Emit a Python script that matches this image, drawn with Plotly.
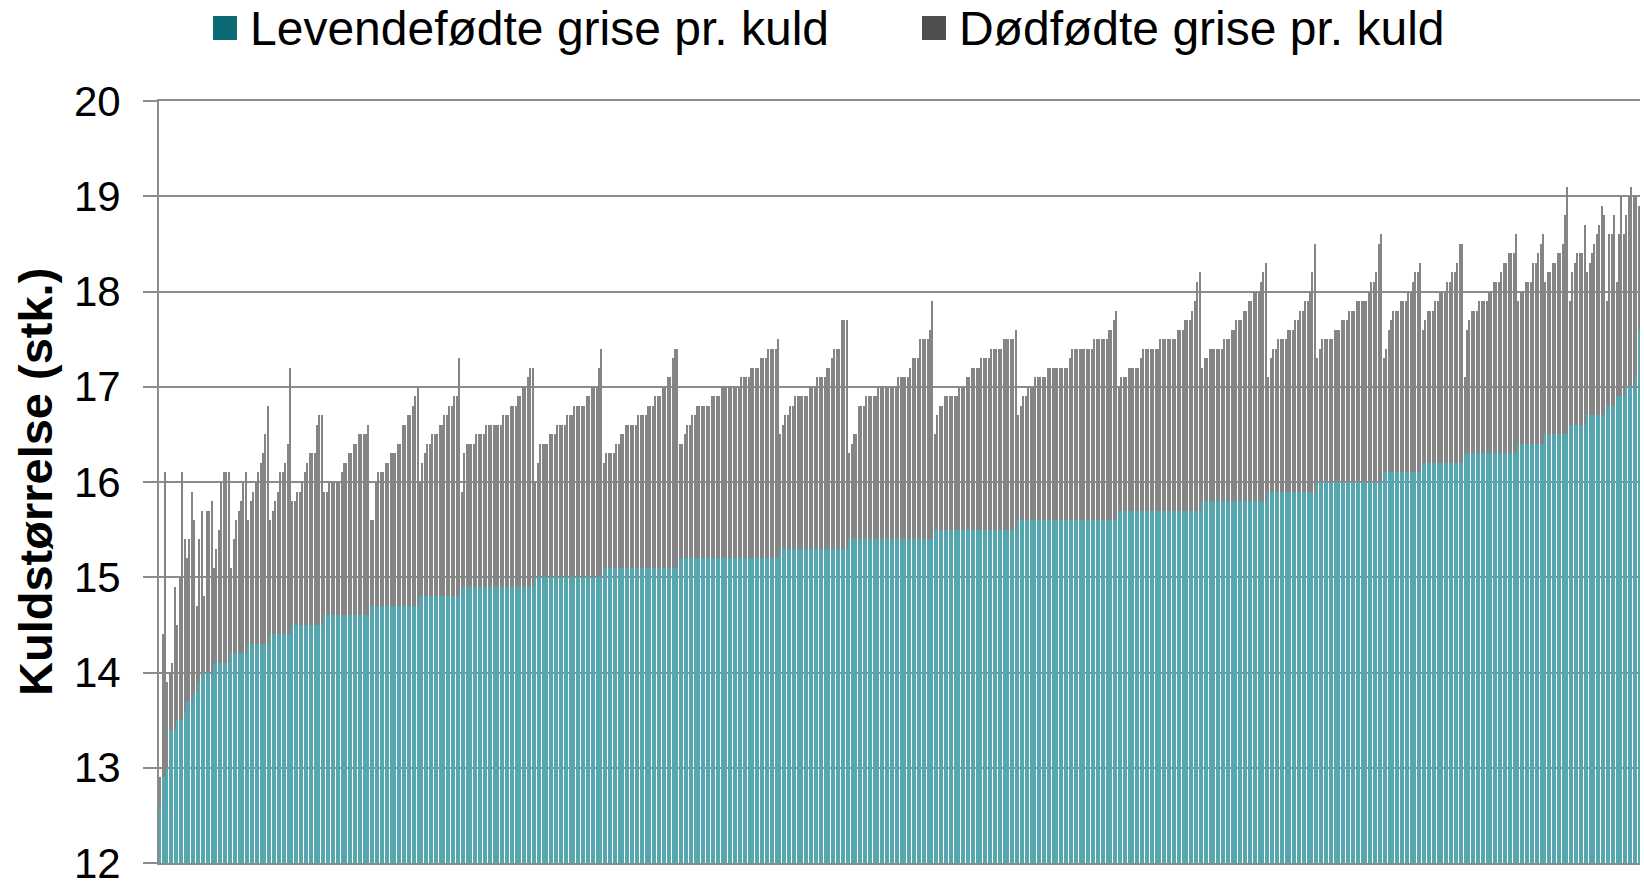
import plotly.graph_objects as go

# ---------------- data ----------------
# first herds: individual live-born values and total litter size
LIVE_START = [12.6, 12.9, 12.9, 13.0, 13.4, 13.4, 13.4, 13.5, 13.5, 13.5, 13.6, 13.7, 13.7, 13.7, 13.8, 13.8, 13.9]
TOTAL_START = [12.9, 14.4, 16.1, 13.9, 14.0, 14.1, 14.9, 14.5, 15.0, 16.1, 15.4, 15.2, 15.4, 15.9, 15.6, 14.7, 15.4]

# remaining herds grouped by live-born level; totals (live + stillborn) for each herd
GROUP_LIVE = [14.0, 14.1, 14.2, 14.3, 14.4, 14.5, 14.6, 14.7, 14.8, 14.9, 15.0, 15.1, 15.2, 15.3,
              15.4, 15.5, 15.6, 15.7, 15.8, 15.9, 16.0, 16.1, 16.2, 16.3, 16.4, 16.5, 16.6, 16.7,
              16.8, 16.9, 17.0, 17.1, 17.6]
GROUP_TOTALS = [
    [15.7, 14.8, 15.7, 15.7, 15.8],
    [15.1, 15.3, 15.5, 16.0, 16.1, 16.1, 16.1],
    [15.1, 15.4, 15.6, 15.7, 15.8, 16.0, 16.1],
    [15.6, 15.8, 15.9, 16.0, 16.1, 16.2, 16.3, 16.5, 16.8],
    [15.6, 15.7, 15.8, 15.9, 16.1, 16.1, 16.2, 16.4, 17.2],
    [15.8, 15.8, 15.9, 15.9, 16.0, 16.1, 16.2, 16.3, 16.3, 16.3, 16.6, 16.7, 16.7],
    [15.9, 15.9, 16.0, 16.0, 16.0, 16.0, 16.0, 16.1, 16.2, 16.2, 16.3, 16.3, 16.4, 16.4, 16.5, 16.5,
     16.5, 16.5, 16.6],
    [15.6, 15.6, 16.0, 16.1, 16.1, 16.1, 16.2, 16.2, 16.3, 16.3, 16.3, 16.4, 16.4, 16.6, 16.6, 16.7,
     16.7, 16.8, 16.9, 17.0],
    [16.0, 16.2, 16.3, 16.4, 16.4, 16.5, 16.5, 16.5, 16.6, 16.6, 16.7, 16.7, 16.8, 16.8, 16.9, 16.9, 17.3],
    [15.9, 16.3, 16.4, 16.4, 16.4, 16.4, 16.5, 16.5, 16.5, 16.5, 16.6, 16.6, 16.6, 16.6, 16.6, 16.6,
     16.6, 16.7, 16.7, 16.7, 16.8, 16.8, 16.8, 16.9, 16.9, 17.0, 17.0, 17.1, 17.2, 17.2],
    [16.0, 16.2, 16.4, 16.4, 16.4, 16.4, 16.5, 16.5, 16.5, 16.6, 16.6, 16.6, 16.6, 16.7, 16.7, 16.7,
     16.8, 16.8, 16.8, 16.8, 16.8, 16.9, 16.9, 17.0, 17.0, 17.0, 17.2, 17.4],
    [16.2, 16.3, 16.3, 16.3, 16.3, 16.4, 16.4, 16.5, 16.5, 16.6, 16.6, 16.6, 16.6, 16.6, 16.7, 16.7,
     16.7, 16.7, 16.8, 16.8, 16.8, 16.9, 16.9, 16.9, 17.0, 17.0, 17.1, 17.1, 17.3, 17.4, 17.4],
    [16.4, 16.4, 16.5, 16.6, 16.6, 16.7, 16.7, 16.8, 16.8, 16.8, 16.8, 16.8, 16.8, 16.9, 16.9, 16.9,
     16.9, 17.0, 17.0, 17.0, 17.0, 17.0, 17.0, 17.0, 17.0, 17.1, 17.1, 17.1, 17.1, 17.2, 17.2, 17.2,
     17.2, 17.3, 17.3, 17.3, 17.4, 17.4, 17.4, 17.4, 17.5],
    [16.5, 16.6, 16.7, 16.7, 16.8, 16.8, 16.9, 16.9, 16.9, 16.9, 16.9, 16.9, 17.0, 17.0, 17.0, 17.1,
     17.1, 17.1, 17.1, 17.2, 17.2, 17.3, 17.4, 17.4, 17.4, 17.7, 17.7, 17.7],
    [16.3, 16.4, 16.5, 16.5, 16.8, 16.8, 16.8, 16.9, 16.9, 16.9, 16.9, 16.9, 17.0, 17.0, 17.0, 17.0,
     17.0, 17.0, 17.0, 17.0, 17.1, 17.1, 17.1, 17.1, 17.1, 17.2, 17.3, 17.3, 17.3, 17.5, 17.5, 17.5,
     17.5, 17.6, 17.9],
    [16.5, 16.7, 16.8, 16.8, 16.9, 16.9, 16.9, 16.9, 16.9, 16.9, 17.0, 17.0, 17.0, 17.1, 17.1, 17.2,
     17.2, 17.2, 17.2, 17.3, 17.3, 17.3, 17.3, 17.4, 17.4, 17.4, 17.4, 17.4, 17.5, 17.5, 17.5, 17.5,
     17.5, 17.6],
    [16.7, 16.8, 16.9, 16.9, 17.0, 17.0, 17.0, 17.1, 17.1, 17.1, 17.1, 17.1, 17.2, 17.2, 17.2, 17.2,
     17.2, 17.2, 17.2, 17.2, 17.2, 17.3, 17.4, 17.4, 17.4, 17.4, 17.4, 17.4, 17.4, 17.4, 17.4, 17.5,
     17.5, 17.5, 17.5, 17.5, 17.5, 17.6, 17.6, 17.7, 17.8],
    [17.0, 17.1, 17.1, 17.1, 17.2, 17.2, 17.2, 17.2, 17.2, 17.3, 17.4, 17.4, 17.4, 17.4, 17.4, 17.4,
     17.4, 17.5, 17.5, 17.5, 17.5, 17.5, 17.5, 17.5, 17.6, 17.6, 17.6, 17.7, 17.7, 17.7, 17.8, 17.9,
     18.1, 18.2],
    [17.2, 17.3, 17.3, 17.4, 17.4, 17.4, 17.4, 17.4, 17.4, 17.5, 17.5, 17.5, 17.6, 17.6, 17.7, 17.7,
     17.7, 17.8, 17.8, 17.9, 17.9, 18.0, 18.0, 18.0, 18.1, 18.2, 18.3],
    [17.1, 17.3, 17.4, 17.4, 17.5, 17.5, 17.5, 17.5, 17.6, 17.6, 17.6, 17.7, 17.7, 17.8, 17.8, 17.9,
     17.9, 18.0, 18.2, 18.5],
    [17.3, 17.4, 17.5, 17.5, 17.5, 17.5, 17.5, 17.6, 17.6, 17.6, 17.7, 17.7, 17.7, 17.8, 17.8, 17.8,
     17.9, 17.9, 17.9, 17.9, 17.9, 18.0, 18.1, 18.1, 18.2, 18.5, 18.6],
    [17.3, 17.4, 17.6, 17.7, 17.8, 17.8, 17.8, 17.9, 17.9, 17.9, 18.0, 18.0, 18.1, 18.2, 18.2, 18.3],
    [17.6, 17.7, 17.8, 17.8, 17.8, 17.9, 17.9, 18.0, 18.0, 18.0, 18.1, 18.1, 18.2, 18.2, 18.3, 18.5, 18.5],
    [17.1, 17.6, 17.7, 17.8, 17.8, 17.8, 17.9, 17.9, 17.9, 17.9, 18.0, 18.0, 18.1, 18.1, 18.1, 18.2,
     18.3, 18.3, 18.4, 18.4, 18.4, 18.6],
    [17.9, 18.0, 18.0, 18.1, 18.1, 18.1, 18.3, 18.3, 18.4, 18.5, 18.6],
    [18.1, 18.2, 18.2, 18.3, 18.3, 18.4, 18.4, 18.5, 18.8, 19.1],
    [17.9, 18.2, 18.3, 18.4, 18.4, 18.4, 18.7],
    [18.2, 18.3, 18.4, 18.5, 18.6, 18.7, 18.9, 18.8],
    [17.9, 18.6, 18.6, 18.8],
    [18.1, 18.6, 19.0, 18.6],
    [18.8, 19.0, 19.1, 19.0],
    [19.0],
    [18.9],
]

Y_TICKS = [12, 13, 14, 15, 16, 17, 18, 19, 20]
SERIES_NAMES = ["Levendefødte grise pr. kuld", "Dødfødte grise pr. kuld"]
LEGEND_COLORS = ["#0b6a76", "#4f4f4f"]
BAR_COLORS = ["#56a6b0", "#858585"]

# ---------------- assemble series ----------------
live = list(LIVE_START)
total = list(TOTAL_START)
for lv, tots in zip(GROUP_LIVE, GROUP_TOTALS):
    live += [lv] * len(tots)
    total += tots
dead = [round(t - l, 1) for t, l in zip(total, live)]
herd = list(range(1, len(live) + 1))

# ---------------- figure ----------------
W, H = 1644, 883
L, R, T, B = 159, 4, 101, 20

fig = go.Figure()
fig.add_trace(go.Bar(x=herd, y=live, name=SERIES_NAMES[0],
                     marker=dict(color=BAR_COLORS[0], line=dict(width=0)), showlegend=False))
fig.add_trace(go.Bar(x=herd, y=dead, name=SERIES_NAMES[1],
                     marker=dict(color=BAR_COLORS[1], line=dict(width=0)), showlegend=False))

fig.update_layout(
    width=W, height=H,
    margin=dict(l=L, r=R, t=T, b=B, autoexpand=False),
    barmode="stack", bargap=0.45,
    plot_bgcolor="white", paper_bgcolor="white",
    font=dict(family="Liberation Sans, Arial, sans-serif", color="black"),
)
fig.update_xaxes(range=[0.5, len(herd) + 0.5], showticklabels=False, ticks="", showgrid=False,
                 zeroline=False, showline=True, linecolor="#8c8c8c", linewidth=2, mirror=True,
                 automargin=False)
fig.update_yaxes(range=[12, 20], tickvals=Y_TICKS, ticks="outside", ticklen=14, tickcolor="#8c8c8c",
                 tickwidth=2, tickfont=dict(size=42), ticklabelstandoff=14, ticklabeloverflow="allow",
                 showgrid=True, gridcolor="#8c8c8c", gridwidth=2, zeroline=False,
                 showline=True, linecolor="#8c8c8c", linewidth=2, automargin=False)

pw = W - L - R
ph = H - T - B
def px(xpix):
    return (xpix - L) / pw
def py(ypix):
    return (H - B - ypix) / ph

# y-axis title
fig.add_annotation(text="<b>Kuldstørrelse (stk.)</b>", textangle=-90, xref="paper", yref="paper",
                   x=px(35), y=py(482), xanchor="center", yanchor="middle", showarrow=False,
                   font=dict(size=47, color="black"))

# legend (swatches + labels)
legend_items = [(213, 248), (922, 957)]
for (sx, tx), name, col in zip(legend_items, SERIES_NAMES, LEGEND_COLORS):
    fig.add_shape(type="rect", xref="paper", yref="paper", x0=px(sx), x1=px(sx + 24),
                  y0=py(40), y1=py(16), fillcolor=col, line=dict(width=0))
    fig.add_annotation(text=name, xref="paper", yref="paper", x=px(tx), y=py(29),
                       xanchor="left", yanchor="middle", showarrow=False,
                       font=dict(size=48, color="black"))

fig.write_html("out.html", config={"displayModeBar": False},
               post_script="document.body.style.margin='0';document.body.style.overflow='hidden';")
